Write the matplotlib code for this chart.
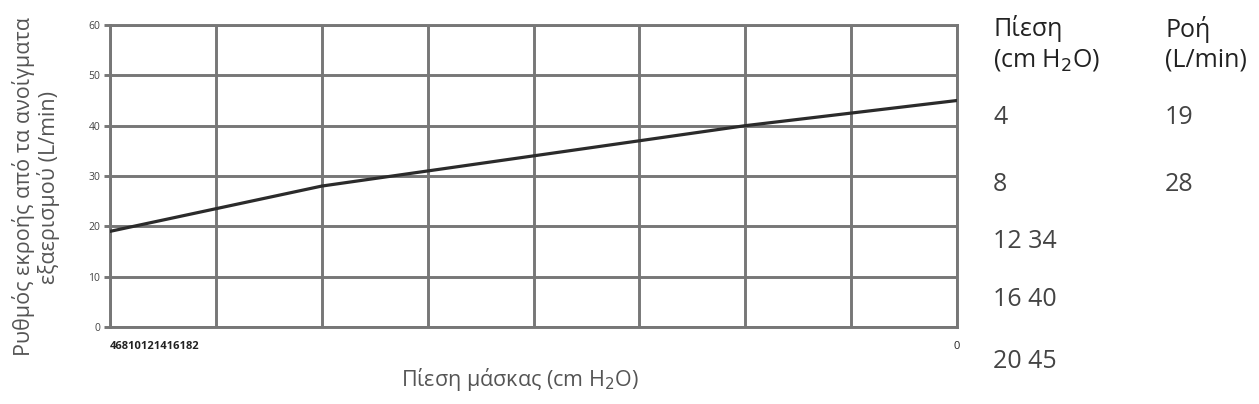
"""Ρυθμός εκροής από τα ανοίγματα εξαερισμού σε σχέση με την πίεση μάσκας."""

import matplotlib
matplotlib.use('Agg')
import matplotlib.pyplot as plt

PRESSURE = [4, 8, 12, 16, 20]        # cm H2O
FLOW     = [19, 28, 34, 40, 45]      # L/min
X_TICKS  = [4, 6, 8, 10, 12, 14, 16, 18, 20]
Y_TICKS  = [0, 10, 20, 30, 40, 50, 60]

GRID = '#777777'
plt.rcParams['font.family'] = ['Open Sans', 'DejaVu Sans']

fig = plt.figure(figsize=(12.59, 4.04), dpi=100)
ax = fig.add_axes([110 / 1259, 1 - 327 / 404, 847 / 1259, 302 / 404])

ax.plot(PRESSURE, FLOW, color='#2b2b2b', linewidth=2.3, zorder=3)

ax.set_xlim(X_TICKS[0], X_TICKS[-1])
ax.set_ylim(Y_TICKS[0], Y_TICKS[-1])
ax.set_xticks(X_TICKS)
ax.set_yticks(Y_TICKS)
ax.grid(True, color=GRID, linewidth=2.1)
ax.set_axisbelow(True)
for sp in ax.spines.values():
    sp.set_color(GRID)
    sp.set_linewidth(2.1)

ax.tick_params(axis='y', length=4, width=2.1, color=GRID,
               labelsize=7.5, labelcolor='#444444', pad=3)
ax.tick_params(axis='x', length=0, labelsize=8, labelcolor='#222222', pad=10)

# οι ετικέτες του άξονα x είναι κολλημένες στο πρωτότυπο
xlabels = [''] * len(X_TICKS)
xlabels[0] = ''.join(str(v) for v in X_TICKS)[:-1]
xlabels[-1] = str(X_TICKS[-1])[-1]
ax.set_xticklabels(xlabels)
for t in ax.get_xticklabels():
    t.set_fontweight('bold')
ax.get_xticklabels()[0].set_horizontalalignment('left')
ax.get_xticklabels()[-1].set_fontweight('normal')

ax.set_xlabel('Πίεση μάσκας (cm H$_2$O)', fontsize=15.5, color='#555555',
              labelpad=10)
ax.xaxis.label.set_x(0.484)
fig.text(36 / 1259, 1 - 187 / 404,
         'Ρυθμός εκροής από τα ανοίγματα\nεξαερισμού (L/min)',
         rotation=90, ha='center', va='center', multialignment='center',
         fontsize=15.5, color='#555555', linespacing=1.1)

# πίνακας τιμών δεξιά
col1, col2 = 993 / 1259, 1165 / 1259
fig.text(col1, 1 - 44 / 404, 'Πίεση\n(cm H$_2$O)', ha='left', va='center',
         fontsize=18, color='#222222', linespacing=1.25)
fig.text(col2, 1 - 44 / 404, 'Ροή\n(L/min)', ha='left', va='center',
         fontsize=18, color='#222222', linespacing=1.25)
row_y = [118, 185, 241, 300, 362]
for i, (p, f) in enumerate(zip(PRESSURE, FLOW)):
    y = 1 - row_y[i] / 404
    if i < 2:
        fig.text(col1, y, str(p), ha='left', va='center', fontsize=18,
                 color='#444444')
        fig.text(col2, y, str(f), ha='left', va='center', fontsize=18,
                 color='#444444')
    else:
        fig.text(col1, y, f'{p} {f}', ha='left', va='center', fontsize=18,
                 color='#444444')

fig.savefig('out.png', dpi=100)
